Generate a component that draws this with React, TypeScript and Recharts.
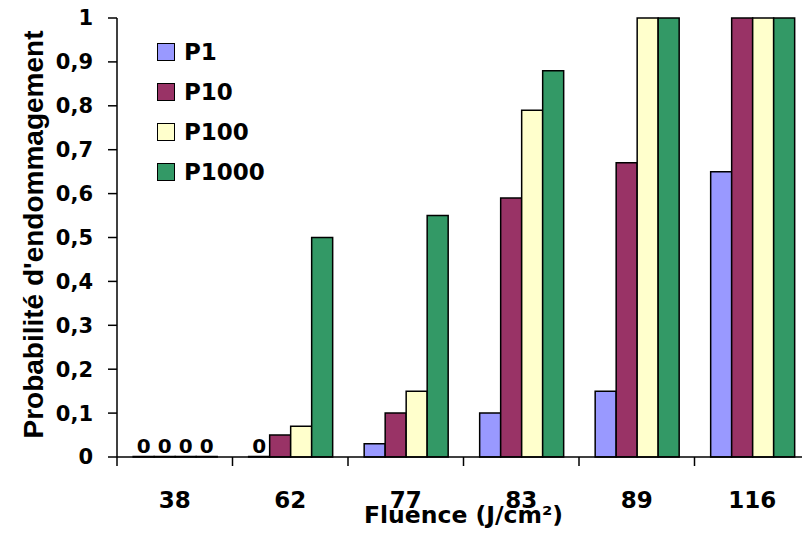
import { Bar, BarChart, LabelList, Legend, XAxis, YAxis } from 'recharts';

const fluences = ['38', '62', '77', '83', '89', '116'];
const p1 = [0, 0, 0.03, 0.1, 0.15, 0.65];
const p10 = [0, 0.05, 0.1, 0.59, 0.67, 1];
const p100 = [0, 0.07, 0.15, 0.79, 1, 1];
const p1000 = [0, 0.5, 0.55, 0.88, 1, 1];
const yTicks = [0, 0.1, 0.2, 0.3, 0.4, 0.5, 0.6, 0.7, 0.8, 0.9, 1];

const data = fluences.map((f, i) => ({
  fluence: f,
  P1: p1[i],
  P10: p10[i],
  P100: p100[i],
  P1000: p1000[i],
}));

const series = [
  { key: 'P1', color: '#9999FF' },
  { key: 'P10', color: '#993366' },
  { key: 'P100', color: '#FFFFCC' },
  { key: 'P1000', color: '#339966' },
];

const FONT = '"DejaVu Sans", sans-serif';

const fmt = (v: number) => (Number.isInteger(v) ? String(v) : v.toFixed(1).replace('.', ','));

// zero bars get a hairline height so recharts keeps them (and their "0" label)
const zeroMin = (v: any) => (Number(v) === 0 ? 0.5 : 0);

function FluenceTick(props: any) {
  const { x, y, payload } = props;
  const half = payload.offset ?? 693 / 12;
  return (
    <g>
      <line x1={x - half} y1={y - 9} x2={x - half} y2={y} stroke="#000" strokeWidth={1.5} />
      <text x={x} y={y + 42} textAnchor="middle" fontFamily={FONT} fontWeight="bold" fontSize={23} fill="#000">
        {payload.value}
      </text>
    </g>
  );
}

function ZeroLabel(props: any) {
  const vb = props.viewBox || {};
  const x = props.x ?? vb.x;
  const y = props.y ?? vb.y;
  const width = props.width ?? vb.width;
  const height = props.height ?? vb.height ?? 0;
  if (x == null || Number(props.value) !== 0) return null;
  const base = Math.max(y, y + height);
  return (
    <text x={x + width / 2} y={base - 4} textAnchor="middle" fontFamily={FONT} fontWeight="bold" fontSize={20} fill="#000">
      0
    </text>
  );
}

function LegendBox(props: any) {
  const { payload } = props;
  return (
    <div style={{ fontFamily: FONT, fontWeight: 'bold', fontSize: 23 }}>
      {payload.map((p: any) => (
        <div key={p.value} style={{ height: 40, display: 'flex', alignItems: 'center' }}>
          <span
            style={{
              width: 16,
              height: 16,
              background: p.color,
              border: '1.5px solid #000',
              marginRight: 9,
              display: 'inline-block',
            }}
          />
          <span style={{ lineHeight: '40px' }}>{p.value}</span>
        </div>
      ))}
    </div>
  );
}

export default function App() {
  return (
    <div style={{ position: 'absolute', left: 0, top: 0, width: 802, height: 533, overflow: 'hidden', background: '#fff' }}>
      <BarChart
        width={830}
        height={533}
        data={data}
        margin={{ top: 18, right: 20, bottom: 0, left: 0 }}
        barCategoryGap="14%"
        barGap={0}
      >
        <XAxis
          dataKey="fluence"
          height={76}
          axisLine={{ stroke: '#000', strokeWidth: 1.5 }}
          tickLine={false}
          tickSize={9}
          tickMargin={0}
          interval={0}
          tick={<FluenceTick />}
          label={{
            content: (lp: any) => {
              const vb = lp.viewBox;
              return (
                <text x={vb.x + vb.width / 2} y={vb.y + 66} textAnchor="middle" fontFamily={FONT} fontWeight="bold" fontSize={23.5} fill="#000">
                  Fluence (J/cm²)
                </text>
              );
            },
          }}
        />
        <YAxis
          width={117}
          domain={[0, 1]}
          ticks={yTicks}
          tickFormatter={fmt}
          axisLine={{ stroke: '#000', strokeWidth: 1.5 }}
          tickLine={{ stroke: '#000', strokeWidth: 1.5 }}
          tickSize={9}
          tickMargin={15}
          tick={{ fill: '#000', fontFamily: FONT, fontWeight: 'bold', fontSize: 21 }}
          label={{
            content: (lp: any) => {
              const vb = lp.viewBox;
              const cy = vb.y + vb.height / 2 - 3;
              return (
                <text
                  x={43}
                  y={cy}
                  transform={`rotate(-90 43 ${cy})`}
                  textAnchor="middle"
                  fontFamily='"Liberation Sans", Arial, sans-serif'
                  fontWeight="bold"
                  fontSize={28}
                  fill="#000"
                >
                  Probabilité d'endommagement
                </text>
              );
            },
          }}
        />
        <Legend
          layout="horizontal"
          align="center"
          verticalAlign="middle"
          wrapperStyle={{ left: 157, top: 32, width: 150 }}
          content={<LegendBox />}
        />
        {series.map((s) => (
          <Bar
            key={s.key}
            dataKey={s.key}
            fill={s.color}
            stroke="#000"
            strokeWidth={1.5}
            minPointSize={zeroMin}
            isAnimationActive={false}
          >
            <LabelList dataKey={s.key} content={<ZeroLabel />} />
          </Bar>
        ))}
      </BarChart>
    </div>
  );
}
